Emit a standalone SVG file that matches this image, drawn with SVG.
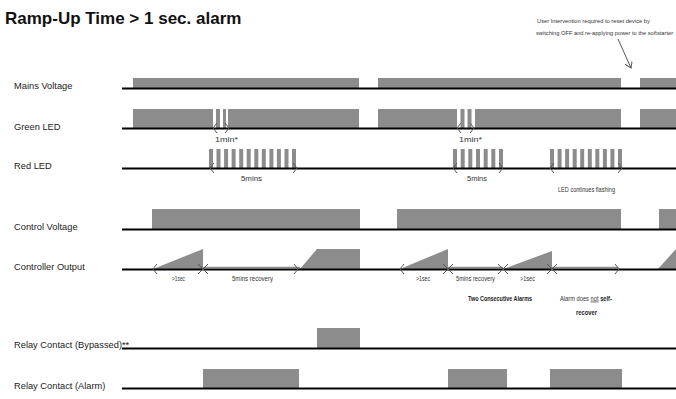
<svg xmlns="http://www.w3.org/2000/svg" width="676" height="399" viewBox="0 0 676 399">
<style>
.lbl{font-family:"Liberation Sans",Arial,sans-serif;font-size:9.3px;fill:#222}
.sm{font-family:"Liberation Sans",Arial,sans-serif;font-size:7px;fill:#333}
.smb{font-family:"Liberation Sans",Arial,sans-serif;font-size:7px;fill:#222;font-weight:bold}
.base{stroke:#000;stroke-width:2;fill:none}
.g{fill:#8c8c8c}
.chev{stroke:#555;stroke-width:1;fill:none}
.thin{stroke:#8c8c8c;stroke-width:1.5;fill:none}
</style>
<defs>
<marker id="ah" markerWidth="8" markerHeight="8" refX="6" refY="4" orient="auto" markerUnits="userSpaceOnUse">
<path d="M0,0 L6,4 L0,8" fill="none" stroke="#444" stroke-width="0.9"/>
</marker>
<path id="lt" d="M4,-5 L0,0 L4,5"/>
<path id="gt" d="M-4,-5 L0,0 L-4,5"/>
<path id="x" d="M-5,-5 L5,5 M-5,5 L5,-5"/>
</defs>
<rect width="676" height="399" fill="#fff"/>
<text x="5" y="24" style="font-family:'Liberation Sans',Arial,sans-serif;font-size:17px;font-weight:bold;fill:#111">Ramp-Up Time &gt; 1 sec. alarm</text>

<g id="mains">
<text class="lbl" x="14" y="89">Mains Voltage</text>
<rect class="g" x="133" y="78" width="226" height="10"/>
<rect class="g" x="378" y="78" width="243" height="10"/>
<rect class="g" x="640" y="78" width="36" height="10"/>
<line class="base" x1="122" y1="88.5" x2="676" y2="88.5"/>
</g>

<g id="green">
<text class="lbl" x="14" y="130">Green LED</text>
<rect class="g" x="133" y="109" width="80" height="19"/>
<rect class="g" x="216" y="109" width="4" height="19"/>
<rect class="g" x="223" y="109" width="3" height="19"/>
<rect class="g" x="228" y="109" width="131" height="19"/>
<rect class="g" x="378" y="109" width="79" height="19"/>
<rect class="g" x="460.5" y="109" width="4" height="19"/>
<rect class="g" x="467.5" y="109" width="4" height="19"/>
<rect class="g" x="475" y="109" width="146" height="19"/>
<rect class="g" x="640" y="109" width="36" height="19"/>
<line class="base" x1="122" y1="128.5" x2="676" y2="128.5"/>
<use href="#lt" class="chev" x="213" y="128"/>
<use href="#gt" class="chev" x="229" y="128"/>
<text class="sm" x="215" y="141.5" textLength="23" lengthAdjust="spacingAndGlyphs">1min*</text>
<use href="#lt" class="chev" x="457" y="128"/>
<use href="#gt" class="chev" x="474" y="128"/>
<text class="sm" x="459" y="141.5" textLength="23" lengthAdjust="spacingAndGlyphs">1min*</text>
</g>

<g id="red">
<text class="lbl" x="14" y="169">Red LED</text>
<g class="g">
<rect x="209" y="149" width="4" height="19"/><rect x="216.5" y="149" width="4" height="19"/><rect x="224.1" y="149" width="4" height="19"/><rect x="231.6" y="149" width="4" height="19"/><rect x="239.2" y="149" width="4" height="19"/><rect x="246.7" y="149" width="4" height="19"/><rect x="254.3" y="149" width="4" height="19"/><rect x="261.8" y="149" width="4" height="19"/><rect x="269.4" y="149" width="4" height="19"/><rect x="276.9" y="149" width="4" height="19"/><rect x="284.5" y="149" width="4" height="19"/><rect x="292" y="149" width="4" height="19"/>
<rect x="453" y="149" width="4" height="19"/><rect x="460.7" y="149" width="4" height="19"/><rect x="468.3" y="149" width="4" height="19"/><rect x="476" y="149" width="4" height="19"/><rect x="483.7" y="149" width="4" height="19"/><rect x="491.3" y="149" width="4" height="19"/><rect x="499" y="149" width="4" height="19"/>
<rect x="550" y="149" width="4" height="19"/><rect x="557.6" y="149" width="4" height="19"/><rect x="565.1" y="149" width="4" height="19"/><rect x="572.7" y="149" width="4" height="19"/><rect x="580.2" y="149" width="4" height="19"/><rect x="587.8" y="149" width="4" height="19"/><rect x="595.3" y="149" width="4" height="19"/><rect x="602.9" y="149" width="4" height="19"/><rect x="610.4" y="149" width="4" height="19"/><rect x="618" y="149" width="4" height="19"/>
</g>
<line class="base" x1="122" y1="168.5" x2="676" y2="168.5"/>
<use href="#lt" class="chev" x="210" y="168"/>
<use href="#gt" class="chev" x="297" y="168"/>
<text class="sm" x="241" y="181" textLength="21" lengthAdjust="spacingAndGlyphs">5mins</text>
<use href="#lt" class="chev" x="453" y="168"/>
<use href="#gt" class="chev" x="503" y="168"/>
<text class="sm" x="467" y="181" textLength="20" lengthAdjust="spacingAndGlyphs">5mins</text>
<use href="#lt" class="chev" x="550" y="168"/>
<use href="#gt" class="chev" x="622" y="168"/>
<text class="sm" x="558" y="192" textLength="57" lengthAdjust="spacingAndGlyphs">LED continues flashing</text>
</g>

<g id="control">
<text class="lbl" x="14" y="230">Control Voltage</text>
<rect class="g" x="152" y="209" width="208" height="20"/>
<rect class="g" x="397" y="209" width="224" height="20"/>
<rect class="g" x="659" y="209" width="17" height="20"/>
<line class="base" x1="122" y1="229.5" x2="676" y2="229.5"/>
</g>

<g id="output">
<text class="lbl" x="14" y="270">Controller Output</text>
<polygon class="g" points="153,269 203,249 203,269"/>
<polygon class="g" points="300,269 317,249 360,249 360,269"/>
<polygon class="g" points="400,269 448,249 448,269"/>
<polygon class="g" points="503,269 552,251 552,269"/>
<polygon class="g" points="658,269 676,249 676,269"/>
<line class="thin" x1="203" y1="267.5" x2="300" y2="267.5"/>
<line class="thin" x1="448" y1="267.5" x2="503" y2="267.5"/>
<line class="thin" x1="552" y1="267.5" x2="618" y2="267.5"/>
<line class="base" x1="122" y1="269.5" x2="676" y2="269.5"/>
<use href="#lt" class="chev" x="153" y="269"/>
<use href="#x" class="chev" x="203" y="269"/>
<use href="#gt" class="chev" x="298" y="269"/>
<use href="#lt" class="chev" x="400" y="269"/>
<use href="#x" class="chev" x="448" y="269"/>
<use href="#x" class="chev" x="503" y="269"/>
<use href="#x" class="chev" x="552" y="269"/>
<use href="#gt" class="chev" x="619" y="269"/>
<text class="sm" x="172" y="280.5" textLength="13" lengthAdjust="spacingAndGlyphs">&gt;1sec</text>
<text class="sm" x="232" y="280.5" textLength="41" lengthAdjust="spacingAndGlyphs">5mins recovery</text>
<text class="sm" x="416" y="280.5" textLength="14" lengthAdjust="spacingAndGlyphs">&gt;1sec</text>
<text class="sm" x="456" y="280.5" textLength="39" lengthAdjust="spacingAndGlyphs">5mins recovery</text>
<text class="sm" x="520" y="280.5" textLength="15" lengthAdjust="spacingAndGlyphs">&gt;1sec</text>
<text class="smb" x="468" y="300.5" textLength="64" lengthAdjust="spacingAndGlyphs">Two Consecutive Alarms</text>
<text class="sm" transform="translate(560,300.5) scale(0.82,1)">Alarm does <tspan text-decoration="underline">not</tspan> <tspan font-weight="bold" fill="#222">self-</tspan></text>
<text class="smb" x="576" y="314.5" textLength="21" lengthAdjust="spacingAndGlyphs">recover</text>
</g>

<g id="bypass">
<text class="lbl" x="14" y="348">Relay Contact (Bypassed)**</text>
<rect class="g" x="317" y="328" width="43" height="20"/>
<line class="base" x1="122" y1="348.5" x2="676" y2="348.5"/>
</g>

<g id="alarm">
<text class="lbl" x="14" y="389">Relay Contact (Alarm)</text>
<rect class="g" x="203" y="369" width="96" height="19"/>
<rect class="g" x="448" y="369" width="59" height="19"/>
<rect class="g" x="550" y="369" width="72" height="19"/>
<line class="base" x1="122" y1="388.5" x2="676" y2="388.5"/>
</g>

<g id="note">
<text class="sm" transform="translate(537,22.5) scale(0.862,1)" style="font-size:6px" textLength="131" lengthAdjust="spacingAndGlyphs">User Intervention required to reset device by</text>
<text class="sm" transform="translate(536,34.5) scale(0.862,1)" style="font-size:6px" textLength="159" lengthAdjust="spacingAndGlyphs">switching OFF and re-applying power to the softstarter</text>
</g>

<g id="connectors">
<line x1="618" y1="39" x2="631" y2="68" stroke="#444" stroke-width="0.9" marker-end="url(#ah)"/>
</g>
</svg>
